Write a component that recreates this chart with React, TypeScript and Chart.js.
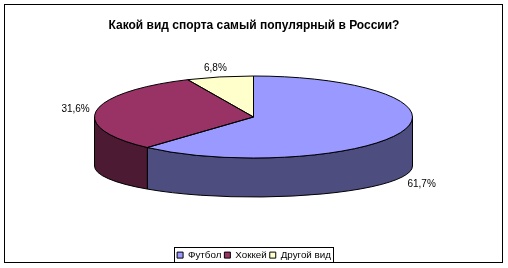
import React, { useEffect, useRef } from "react";
import { Chart, registerables } from "chart.js";

Chart.register(...registerables);

const categories = ["Футбол", "Хоккей", "Другой вид"];
const values = [61.7, 31.6, 6.8];
const valueLabels = ["61,7%", "31,6%", "6,8%"];
const topColors = ["#9999FF", "#993366", "#FFFFCC"];
const sideColors = ["#4D4D80", "#4D1A33", "#80806A"];
const titleText = "Какой вид спорта самый популярный в России?";

// 3D layout geometry (pixels)
const CX = 253.5;
const CY = 117;
const RX = 159;
const RY = 41;
const BCY = 166;
const BRY = 31;

function wallRanges(a0: number, a1: number): [number, number][] {
  const out: [number, number][] = [];
  for (const k of [-2, 0, 2]) {
    const lo = Math.max(a0, k * Math.PI);
    const hi = Math.min(a1, (k + 1) * Math.PI);
    if (hi > lo) out.push([lo, hi]);
  }
  return out;
}

const pie3dPlugin = {
  id: "pie3d",
  beforeDraw(chart: any) {
    const ctx = chart.ctx;
    ctx.save();
    ctx.fillStyle = "#ffffff";
    ctx.fillRect(0, 0, chart.width, chart.height);
    ctx.restore();
  },
  beforeDatasetsDraw(chart: any) {
    const ctx = chart.ctx;
    const meta = chart.getDatasetMeta(0);
    meta.data.forEach((arc: any, i: number) => {
      wallRanges(arc.startAngle, arc.endAngle).forEach(([s, e]) => {
        ctx.save();
        ctx.beginPath();
        ctx.ellipse(CX, CY, RX, RY, 0, s, e, false);
        ctx.lineTo(CX + RX * Math.cos(e), BCY + BRY * Math.sin(e));
        ctx.ellipse(CX, BCY, RX, BRY, 0, e, s, true);
        ctx.closePath();
        ctx.fillStyle = sideColors[i];
        ctx.fill();
        ctx.strokeStyle = "#000000";
        ctx.lineWidth = 1;
        ctx.stroke();
        ctx.restore();
      });
    });
    const a = meta.data[0];
    ctx.save();
    ctx.translate(CX, CY);
    ctx.scale(RX / a.outerRadius, RY / a.outerRadius);
    ctx.translate(-a.x, -a.y);
  },
  afterDatasetsDraw(chart: any) {
    const ctx = chart.ctx;
    ctx.restore();
    const meta = chart.getDatasetMeta(0);
    meta.data.forEach((arc: any) => {
      const a0 = arc.startAngle;
      const a1 = arc.endAngle;
      ctx.save();
      ctx.beginPath();
      ctx.moveTo(CX, CY);
      ctx.lineTo(CX + RX * Math.cos(a0), CY + RY * Math.sin(a0));
      ctx.ellipse(CX, CY, RX, RY, 0, a0, a1, false);
      ctx.closePath();
      ctx.strokeStyle = "#000000";
      ctx.lineWidth = 1;
      ctx.stroke();
      ctx.restore();
    });
    meta.data.forEach((arc: any, i: number) => {
      const mid = (arc.startAngle + arc.endAngle) / 2;
      const s = Math.sin(mid);
      const x = CX + 180 * Math.cos(mid);
      const y = CY + 50 * s + (s > 0 ? BCY - CY : 0);
      ctx.save();
      ctx.font = "10px Arial, 'Liberation Sans', sans-serif";
      ctx.fillStyle = "#000000";
      ctx.textAlign = "center";
      ctx.textBaseline = "middle";
      ctx.fillText(valueLabels[i], x, y);
      ctx.restore();
    });
  },
  afterDraw(chart: any) {
    const ctx = chart.ctx;
    ctx.save();
    ctx.strokeStyle = "#000000";
    ctx.lineWidth = 1;
    ctx.strokeRect(4.5, 4.5, 498, 258);
    const boxes = chart.legend && chart.legend.legendHitBoxes;
    if (boxes && boxes.length) {
      let l = Infinity, r = -Infinity, t = Infinity, b = -Infinity;
      boxes.forEach((h: any) => {
        l = Math.min(l, h.left);
        r = Math.max(r, h.left + h.width);
        t = Math.min(t, h.top);
        b = Math.max(b, h.top + h.height);
      });
      ctx.strokeRect(Math.round(l - 3) + 0.5, Math.round(t - 3) + 0.5, Math.round(r - l + 5), Math.round(b - t + 5));
    }
    ctx.restore();
  },
};

export default function App() {
  const ref = useRef<HTMLCanvasElement | null>(null);
  useEffect(() => {
    if (!ref.current) return;
    const chart = new Chart(ref.current, {
      type: "pie",
      data: {
        labels: categories,
        datasets: [
          {
            data: values,
            backgroundColor: topColors,
            borderWidth: 0,
            clip: false as any,
          },
        ],
      },
      options: {
        responsive: false,
        animation: false,
        events: [],
        layout: { padding: { top: 0, bottom: -2, left: 0, right: 0 } },
        plugins: {
          title: {
            display: true,
            text: titleText,
            color: "#000000",
            font: { family: "Arial, 'Liberation Sans', sans-serif", size: 12, weight: "bold" },
            padding: { top: 18, bottom: 0 },
          },
          legend: {
            position: "bottom",
            labels: {
              color: "#000000",
              font: { family: "Arial, 'Liberation Sans', sans-serif", size: 9.8 },
              boxWidth: 6,
              boxHeight: 6,
              padding: 3,
              generateLabels: () =>
                categories.map((c, i) => ({
                  text: c,
                  fillStyle: topColors[i],
                  strokeStyle: "#000000",
                  lineWidth: 1,
                  hidden: false,
                  index: i,
                  datasetIndex: 0,
                })),
            },
          },
          tooltip: { enabled: false },
        },
      },
      plugins: [pie3dPlugin],
    });
    return () => chart.destroy();
  }, []);
  return (
    <div style={{ position: "fixed", left: 0, top: 0, width: 508, height: 268, background: "#fff" }}>
      <canvas ref={ref} width={508} height={268} />
    </div>
  );
}
